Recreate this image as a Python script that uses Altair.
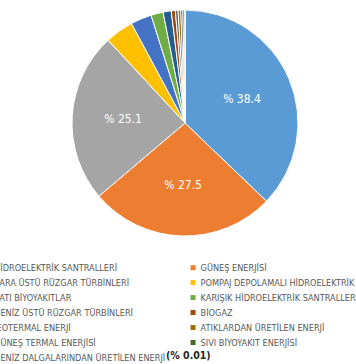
import altair as alt
import pandas as pd

categories = [
    "HİDROELEKTRİK SANTRALLERİ",
    "GÜNEŞ ENERJİSİ",
    "KARA ÜSTÜ RÜZGAR TÜRBİNLERİ",
    "POMPAJ DEPOLAMALI HİDROELEKTRİK SANTRALLERİ",
    "KATI BİYOYAKITLAR",
    "KARIŞIK HİDROELEKTRİK SANTRALLERİ",
    "DENİZ ÜSTÜ RÜZGAR TÜRBİNLERİ",
    "BİOGAZ",
    "JEOTERMAL ENERJİ",
    "ATIKLARDAN ÜRETİLEN ENERJİ",
    "GÜNEŞ TERMAL ENERJİSİ",
    "SIVI BİYOYAKIT ENERJİSİ",
    "DENİZ DALGALARINDAN ÜRETİLEN ENERJİ",
]
values = [38.4, 27.5, 25.1, 4.2, 3.1, 1.8, 1.2, 0.6, 0.4, 0.4, 0.3, 0.3, 0.01]
colors = ["#5B9BD5", "#ED7D31", "#A5A5A5", "#FFC000", "#4472C4", "#70AD47",
          "#255E91", "#9E480E", "#636363", "#997300", "#264478", "#43682B", "#698ED0"]
note_text = "(% 0.01)"

df = pd.DataFrame({"kategori": categories, "deger": values, "sira": list(range(len(values)))})

FONT = "Liberation Sans Narrow, DejaVu Sans Condensed, Open Sans"
CX, CY, R = 185, 123, 113

base = alt.Chart(df).encode(
    theta=alt.Theta("deger:Q", stack=True),
    order=alt.Order("sira:Q", sort="ascending"),
)

arcs = base.mark_arc(outerRadius=R, stroke="white", strokeWidth=1).encode(
    x=alt.value(CX),
    y=alt.value(CY),
    color=alt.Color(
        "kategori:N",
        scale=alt.Scale(domain=categories, range=colors),
        sort=categories,
        legend=alt.Legend(
            title=None,
            orient="none",
            legendX=-18,
            legendY=263,
            columns=2,
            direction="horizontal",
            symbolType="square",
            symbolSize=25,
            symbolStrokeWidth=0,
            labelFont=FONT,
            labelFontSize=9.1,
            labelColor="#595959",
            labelLimit=400,
            labelOffset=3,
            rowPadding=5.0,
            columnPadding=22.5,
            padding=0,
        ),
    ),
)

labels = base.transform_calculate(
    etiket="datum.deger >= 20 ? '% ' + format(datum.deger, '.1f') : ''"
).mark_text(radius=62, font=FONT, fontSize=12, color="white").encode(
    x=alt.value(CX),
    y=alt.value(CY),
    text="etiket:N",
)

note = alt.Chart(pd.DataFrame({"t": [note_text]})).mark_text(
    font=FONT, fontSize=10.5, color="#262626", align="left", baseline="middle", fontWeight="bold"
).encode(x=alt.value(166), y=alt.value(356), text="t:N")

chart = alt.layer(arcs, labels, note).properties(
    width=356, height=364, padding=0, autosize=alt.AutoSizeParams(type="none")
).configure_view(stroke=None)

chart.save("out.html", embed_options={"renderer": "svg", "actions": False})
